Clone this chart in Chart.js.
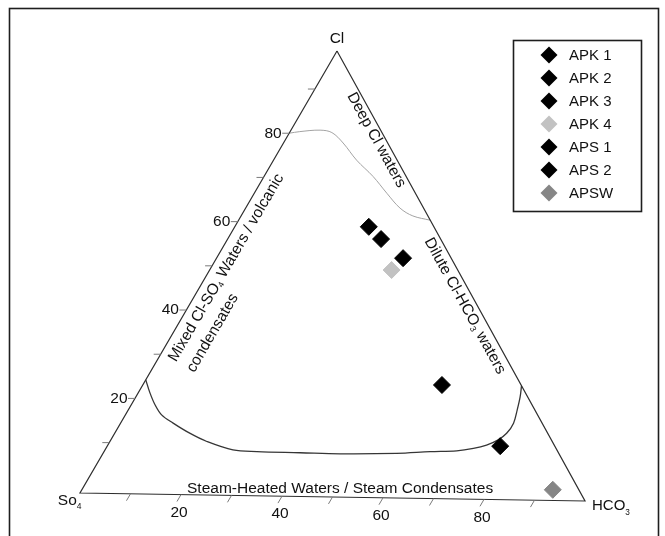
<!DOCTYPE html>
<html><head><meta charset="utf-8">
<script src="https://cdn.jsdelivr.net/npm/chart.js@4.4.0/dist/chart.umd.min.js"></script>
<style>html,body{margin:0;padding:0;background:#fff;}#wrap{width:665px;height:536px;position:relative;background:#fff}</style>
</head><body><div id="wrap"><canvas id="c" width="665" height="536"></canvas></div>
<script>
// ---------------- data (ternary percentages) ----------------
const seriesNames = ['APK 1','APK 2','APK 3','APK 4','APS 1','APS 2','APSW'];
const clValues    = [60.7, 58.0, 53.8, 51.1, 25.5, 12.0, 2.4];
const so4Values   = [13.0, 11.9, 9.6, 13.2, 15.8, 10.9, 5.2];
const hco3Values  = [26.3, 30.1, 36.6, 35.7, 58.7, 77.1, 92.4];
const seriesColors = ['#000000','#000000','#000000','#c2c2c2','#000000','#000000','#868686'];

// field boundaries (Cl %, HCO3 %)
const deepCurveCl    = [81.4, 81.8, 82.2, 81.7, 79.4, 75.6, 72.0, 68.3, 65.0, 63.3, 62.4];
const deepCurveHco3  = [0.0, 1.9, 5.7, 8.3, 11.7, 16.3, 21.4, 26.0, 30.3, 33.7, 37.6];
const steamCurveCl   = [25.6, 22.7, 20.0, 17.8, 16.0, 13.8, 12.0, 10.2, 9.9, 9.8, 9.7, 10.0, 10.5, 10.8, 11.4, 12.2, 13.4, 14.9, 17.2, 20.2, 23.1, 25.6];
const steamCurveHco3 = [0.0, 2.3, 4.7, 7.1, 10.3, 14.7, 19.0, 25.1, 30.0, 38.6, 46.6, 57.6, 64.0, 69.1, 72.1, 74.3, 76.0, 76.9, 77.1, 76.3, 75.4, 74.4];

const tickValues = [10, 20, 30, 40, 50, 60, 70, 80, 90];
const tickLabels = [20, 40, 60, 80];

// ---------------- layout ----------------
const W = 665, H = 536;
const PX = 5.05;                 // pixels per chart unit
const ORIGIN = {x: 80, y: 493};  // SO4 vertex pixel
const V_CL = [50.89, 87.52], V_SO4 = [0, 0], V_HCO3 = [100, -1.584];
const LEFT_TICK_SHIFT = 1.4;     // the printed left axis sits slightly high
const FONT = '"Liberation Sans", Arial, Helvetica, sans-serif';

function tern(cl, so4, hco3) {
  const s = cl + so4 + hco3;
  return {
    x: (cl * V_CL[0] + so4 * V_SO4[0] + hco3 * V_HCO3[0]) / s,
    y: (cl * V_CL[1] + so4 * V_SO4[1] + hco3 * V_HCO3[1]) / s
  };
}
const tern2 = (cl, hco3) => tern(cl, Math.max(0, 100 - cl - hco3), hco3);

const datasets = [];
seriesNames.forEach((n, i) => {
  datasets.push({
    label: n,
    data: [tern(clValues[i], so4Values[i], hco3Values[i])],
    pointStyle: 'rectRot', pointRadius: 8.5, pointBorderWidth: 1,
    backgroundColor: seriesColors[i], borderColor: seriesColors[i], showLine: false
  });
});
datasets.push({
  label: 'triangle', data: [tern(100,0,0), tern(0,100,0), tern(0,0,100), tern(100,0,0)],
  showLine: true, borderColor: '#2e2e2e', borderWidth: 1.2, pointRadius: 0, tension: 0, fill: false
});
datasets.push({
  label: 'deep', data: deepCurveCl.map((c, i) => tern2(c, deepCurveHco3[i])),
  showLine: true, borderColor: '#a3a3a3', borderWidth: 1, pointRadius: 0, tension: 0.35, fill: false
});
datasets.push({
  label: 'steam', data: steamCurveCl.map((c, i) => tern2(c, steamCurveHco3[i])),
  showLine: true, borderColor: '#363636', borderWidth: 1.3, pointRadius: 0, tension: 0.35, fill: false
});

function drawRich(ctx, parts, x, y, align, size) {
  const widths = parts.map(p => { ctx.font = (p[1] ? size * 0.55 : size) + 'px ' + FONT; return ctx.measureText(p[0]).width; });
  const total = widths.reduce((a, b) => a + b, 0);
  let cx = align === 'center' ? x - total / 2 : align === 'right' ? x - total : x;
  parts.forEach((p, i) => {
    ctx.font = (p[1] ? size * 0.55 : size) + 'px ' + FONT;
    ctx.textAlign = 'left';
    ctx.fillText(p[0], cx, p[1] ? y + size * 0.28 : y);
    cx += widths[i];
  });
}
function sideText(ctx, from, to, along, perp, parts, align, size) {
  const dx = to.x - from.x, dy = to.y - from.y, L = Math.hypot(dx, dy);
  const ux = dx / L, uy = dy / L, nx = -uy, ny = ux;
  ctx.save();
  ctx.translate(from.x + ux * along + nx * perp, from.y + uy * along + ny * perp);
  ctx.rotate(Math.atan2(uy, ux));
  ctx.textBaseline = 'middle';
  drawRich(ctx, parts, 0, 0, align, size);
  ctx.restore();
}

const decor = {
  id: 'decor',
  afterDraw(chart) {
    const ctx = chart.ctx, xs = chart.scales.x, ys = chart.scales.y;
    const pix = p => ({x: xs.getPixelForValue(p.x), y: ys.getPixelForValue(p.y)});
    const A = pix(tern(100,0,0)), B = pix(tern(0,100,0)), C = pix(tern(0,0,100));
    ctx.save();
    // frame
    ctx.strokeStyle = '#1e1e1e'; ctx.lineWidth = 1.6;
    ctx.strokeRect(9.5, 8.5, 649, 560);
    ctx.fillStyle = '#111';
    // ticks
    ctx.strokeStyle = '#7a7a7a'; ctx.lineWidth = 1;
    const lu = {x: (A.x - B.x), y: (A.y - B.y)}; const ll = Math.hypot(lu.x, lu.y); lu.x /= ll; lu.y /= ll;
    tickValues.forEach(v => {
      const p = pix(tern2(v + LEFT_TICK_SHIFT, 0));
      ctx.beginPath(); ctx.moveTo(p.x, p.y); ctx.lineTo(p.x - 7, p.y); ctx.stroke();
      const q = pix(tern2(0, v));
      ctx.beginPath(); ctx.moveTo(q.x, q.y); ctx.lineTo(q.x - lu.x * 8, q.y - lu.y * 8); ctx.stroke();
    });
    ctx.textBaseline = 'middle';
    tickLabels.forEach(v => {
      const p = pix(tern2(v + LEFT_TICK_SHIFT, 0));
      drawRich(ctx, [[String(v), false]], p.x - 7.5, p.y, 'right', 15.5);
      const q = pix(tern2(0, v));
      drawRich(ctx, [[String(v), false]], q.x - 2, q.y + 18, 'center', 15.5);
    });
    // vertex labels
    ctx.textBaseline = 'alphabetic';
    drawRich(ctx, [['Cl', false]], A.x, A.y - 8, 'center', 15.5);
    drawRich(ctx, [['So', false], ['4', true]], B.x + 1.5, B.y + 12, 'right', 15.5);
    drawRich(ctx, [['HCO', false], ['3', true]], C.x + 7, C.y + 9.5, 'left', 15);
    // field names
    sideText(ctx, A, C, 97, 8.5, [['Deep Cl waters', false]], 'center', 15.5);
    sideText(ctx, A, C, 285, 11, [['Dilute Cl-HCO', false], ['3', true], [' waters', false]], 'center', 15.5);
    sideText(ctx, B, A, 161, 13.2, [['Mixed Cl-SO', false], ['4', true], [' Waters / volcanic', false]], 'left', 15.5);
    sideText(ctx, B, A, 161, 34.2, [['condensates', false]], 'left', 15.5);
    ctx.textBaseline = 'alphabetic';
    const s = pix(tern2(0, 51.5));
    drawRich(ctx, [['Steam-Heated Waters / Steam Condensates', false]], s.x, 493, 'center', 15.5);
    // legend
    ctx.strokeStyle = '#1e1e1e'; ctx.lineWidth = 1.6;
    ctx.strokeRect(513.5, 40.5, 128, 171);
    ctx.textBaseline = 'middle';
    seriesNames.forEach((n, i) => {
      const y = 55 + i * 23, x = 549, r = 8.5;
      ctx.beginPath(); ctx.moveTo(x - r, y); ctx.lineTo(x, y - r); ctx.lineTo(x + r, y); ctx.lineTo(x, y + r); ctx.closePath();
      ctx.fillStyle = seriesColors[i]; ctx.fill();
      ctx.fillStyle = '#111';
      drawRich(ctx, [[n, false]], 569, y + 1, 'left', 15);
    });
    ctx.restore();
  }
};

new Chart(document.getElementById('c'), {
  type: 'scatter',
  data: {datasets},
  options: {
    responsive: false, animation: false, events: [],
    layout: {padding: 0, autoPadding: false},
    scales: {
      x: {type: 'linear', display: false, min: -ORIGIN.x / PX, max: (W - ORIGIN.x) / PX},
      y: {type: 'linear', display: false, min: -(H - ORIGIN.y) / PX, max: ORIGIN.y / PX}
    },
    plugins: {legend: {display: false}, tooltip: {enabled: false}}
  },
  plugins: [decor]
});
</script></body></html>
